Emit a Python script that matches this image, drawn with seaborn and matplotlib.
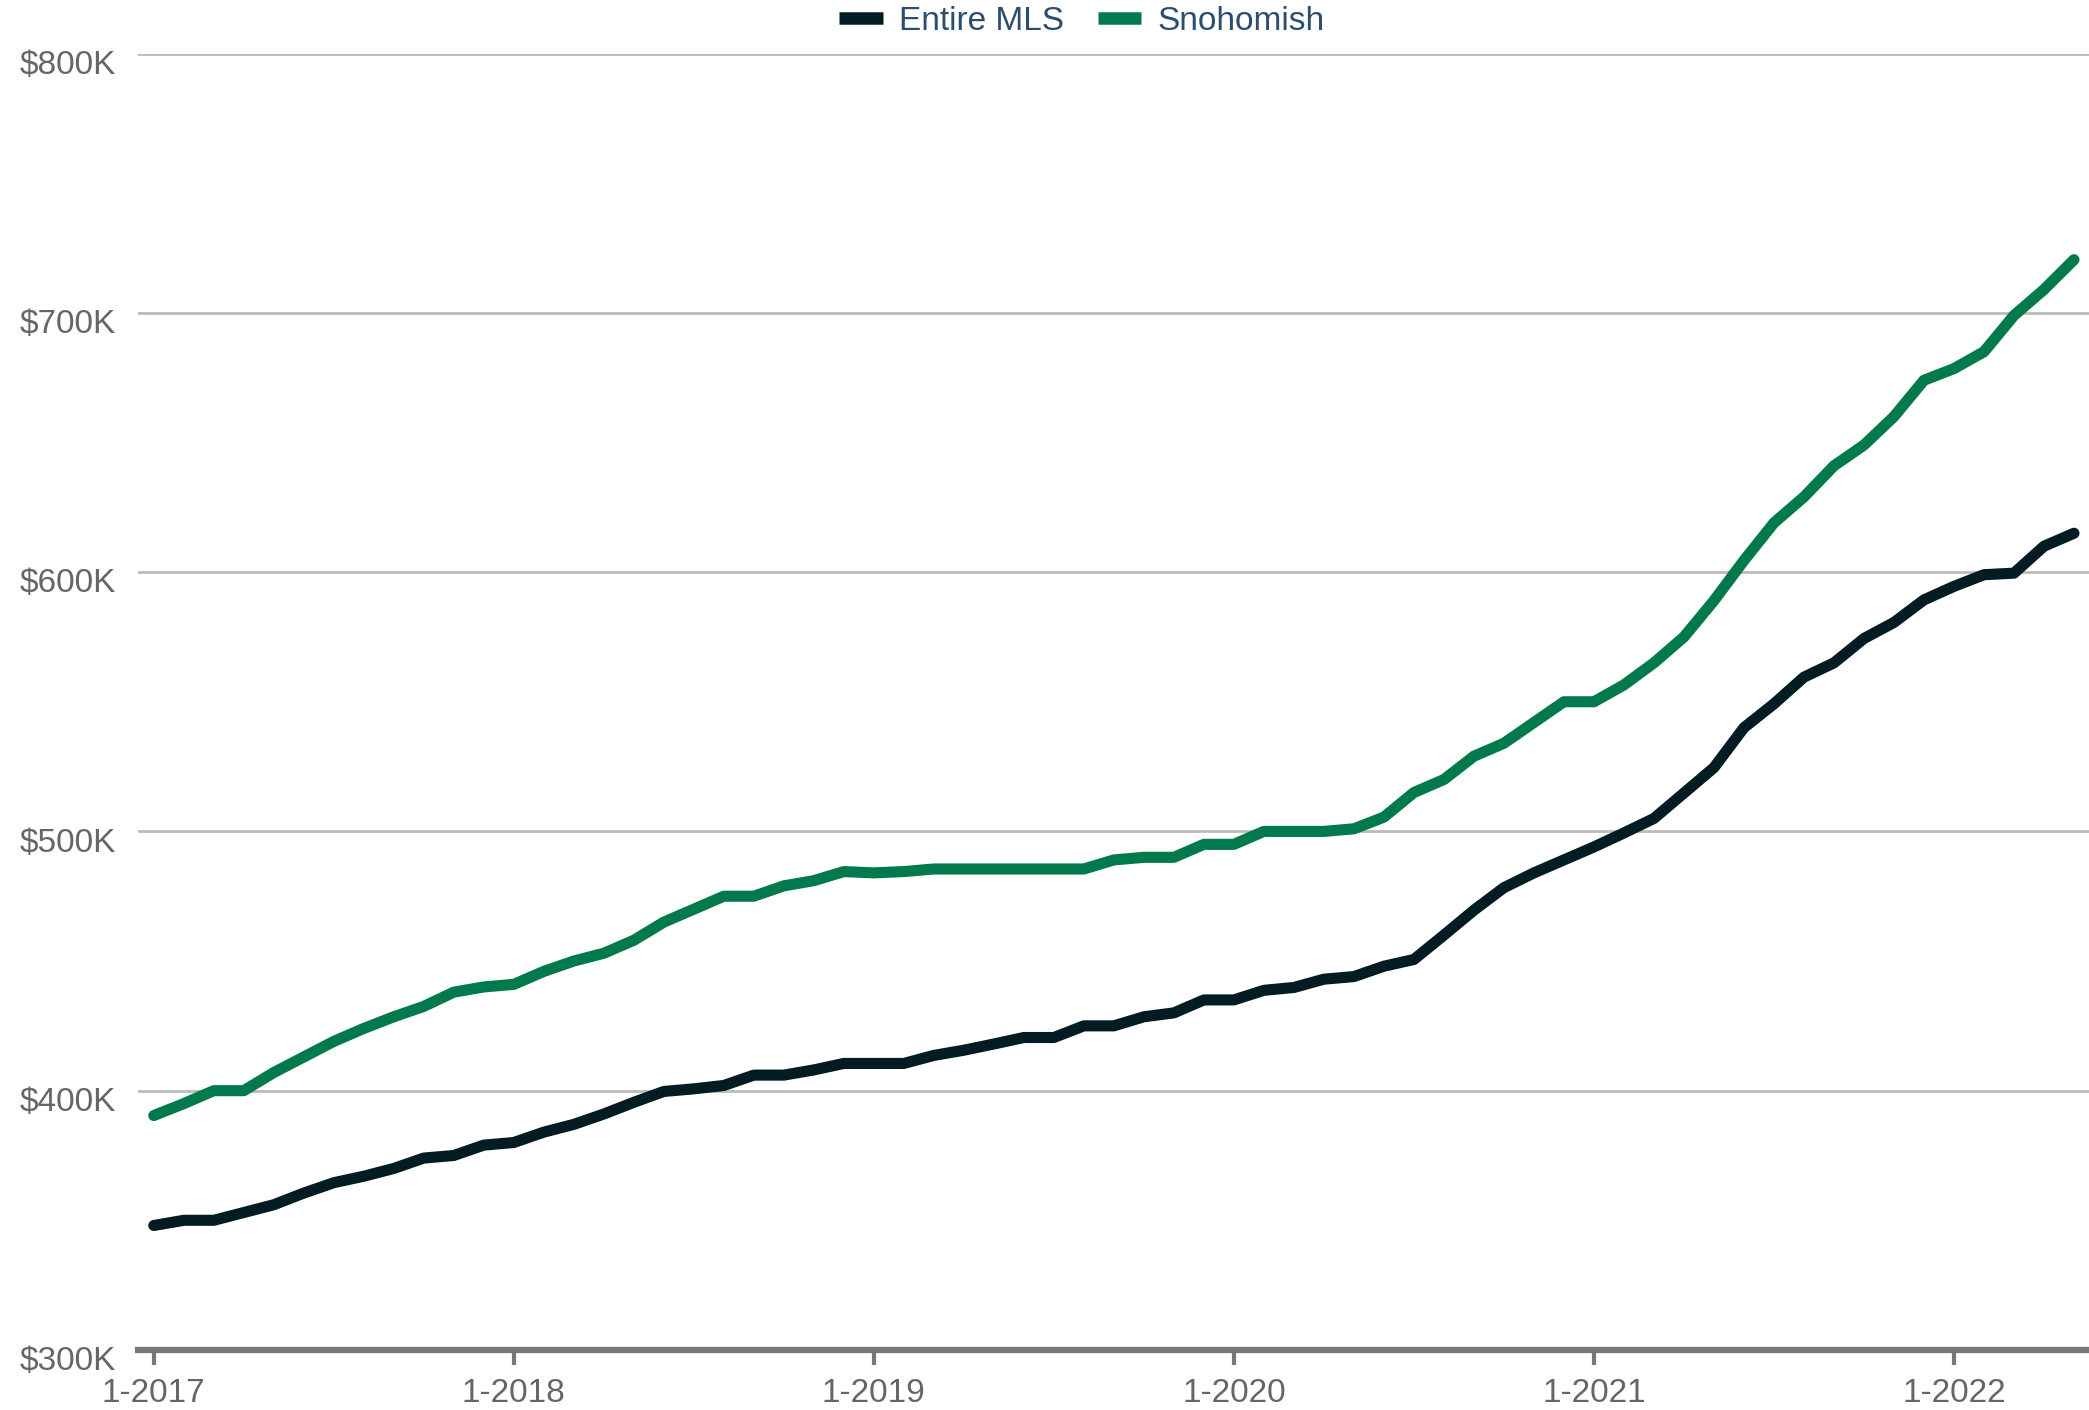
import numpy as np
import pandas as pd
import seaborn as sns
import matplotlib.pyplot as plt
import matplotlib.transforms as mtransforms

# monthly values, Jan 2017 - May 2022 (in $K)
months = pd.date_range("2017-01-01", "2022-05-01", freq="MS")
entire_mls = [348, 350, 350, 353, 356, 360.5, 364.5, 367, 370, 374, 375, 379,
              380, 384, 387, 391, 395.5, 399.7, 400.7, 402, 406, 406, 408, 410.5,
              410.5, 410.5, 413.6, 415.6, 418, 420.5, 420.5, 425, 425, 428.5, 430, 435,
              435, 438.7, 439.8, 443, 444, 448, 450.6, 460, 469.6, 478.3, 484, 489,
              494, 499.4, 505, 514.8, 524.6, 540, 549.2, 559.5, 565, 574.4, 580.6, 589.3,
              594.5, 599, 599.6, 610, 615]
snohomish = [390.4, 395, 400, 400, 407, 413, 419, 424, 428.5, 432.5, 438, 440,
             441, 446, 450, 453, 458, 465, 470, 475, 475, 479, 481, 484.5,
             484, 484.5, 485.5, 485.5, 485.5, 485.5, 485.5, 485.5, 489, 490, 490, 495,
             495, 500, 500, 500, 501, 505.5, 515, 520, 529, 534, 542, 550,
             550, 556.5, 565, 575, 589, 604.5, 619, 629, 641, 649, 660, 674,
             678.5, 685, 699, 709, 720.5]
series_names = ["Entire MLS", "Snohomish"]
series_colors = ["#031c24", "#007a4d"]
y_ticks = [300, 400, 500, 600, 700, 800]
x_tick_labels = ["1-2017", "1-2018", "1-2019", "1-2020", "1-2021", "1-2022"]

idx = np.arange(len(months))
df = pd.concat([
    pd.DataFrame({"i": idx, "value": entire_mls, "series": series_names[0]}),
    pd.DataFrame({"i": idx, "value": snohomish, "series": series_names[1]}),
])

sns.set_style("white")
plt.rcParams["font.family"] = ["Liberation Sans Narrow", "Liberation Sans", "DejaVu Sans"]

fig = plt.figure(figsize=(20.89, 14.10), dpi=100)
ax = fig.add_axes([0.066, 0.0426, 0.934, 0.9194])

sns.lineplot(data=df, x="i", y="value", hue="series", palette=series_colors,
             linewidth=8, ax=ax, legend=False, solid_capstyle="round")

ax.set_xlim(-0.53, len(months) - 0.5)
ax.set_ylim(300, 800)
ax.set_yticks(y_ticks)
ax.set_yticklabels([f"${v}K" for v in y_ticks])
ax.set_xticks(np.arange(0, len(months), 12))
ax.set_xticklabels(x_tick_labels)
ax.set_xlabel("")
ax.set_ylabel("")

for v in y_ticks[1:]:
    ax.axhline(v, color="#bbbbbb", linewidth=2, zorder=0)

for s in ["top", "right", "left"]:
    ax.spines[s].set_visible(False)
ax.spines["bottom"].set_color("#777777")
ax.spines["bottom"].set_linewidth(4.5)

ax.tick_params(axis="x", colors="#777777", labelcolor="#666666", labelsize=24,
               length=11, width=3, direction="out", pad=9, bottom=True)
ax.tick_params(axis="y", labelcolor="#666666", labelsize=24, length=0, pad=16)

# y labels sit a little below their gridlines
offset = mtransforms.ScaledTranslation(0, -6 / 72, fig.dpi_scale_trans)
for lab in ax.get_yticklabels():
    lab.set_transform(lab.get_transform() + offset)

handles = [plt.Line2D([], [], color=c, linewidth=9, solid_capstyle="butt") for c in series_colors]
leg = fig.legend(handles, series_names, loc="center", bbox_to_anchor=(0.518, 0.985),
                 ncol=2, frameon=False, fontsize=24, handlelength=1.3,
                 columnspacing=1.0, handletextpad=0.5)
for t in leg.get_texts():
    t.set_color("#2d4d6e")

fig.savefig("out.png", dpi=100)
